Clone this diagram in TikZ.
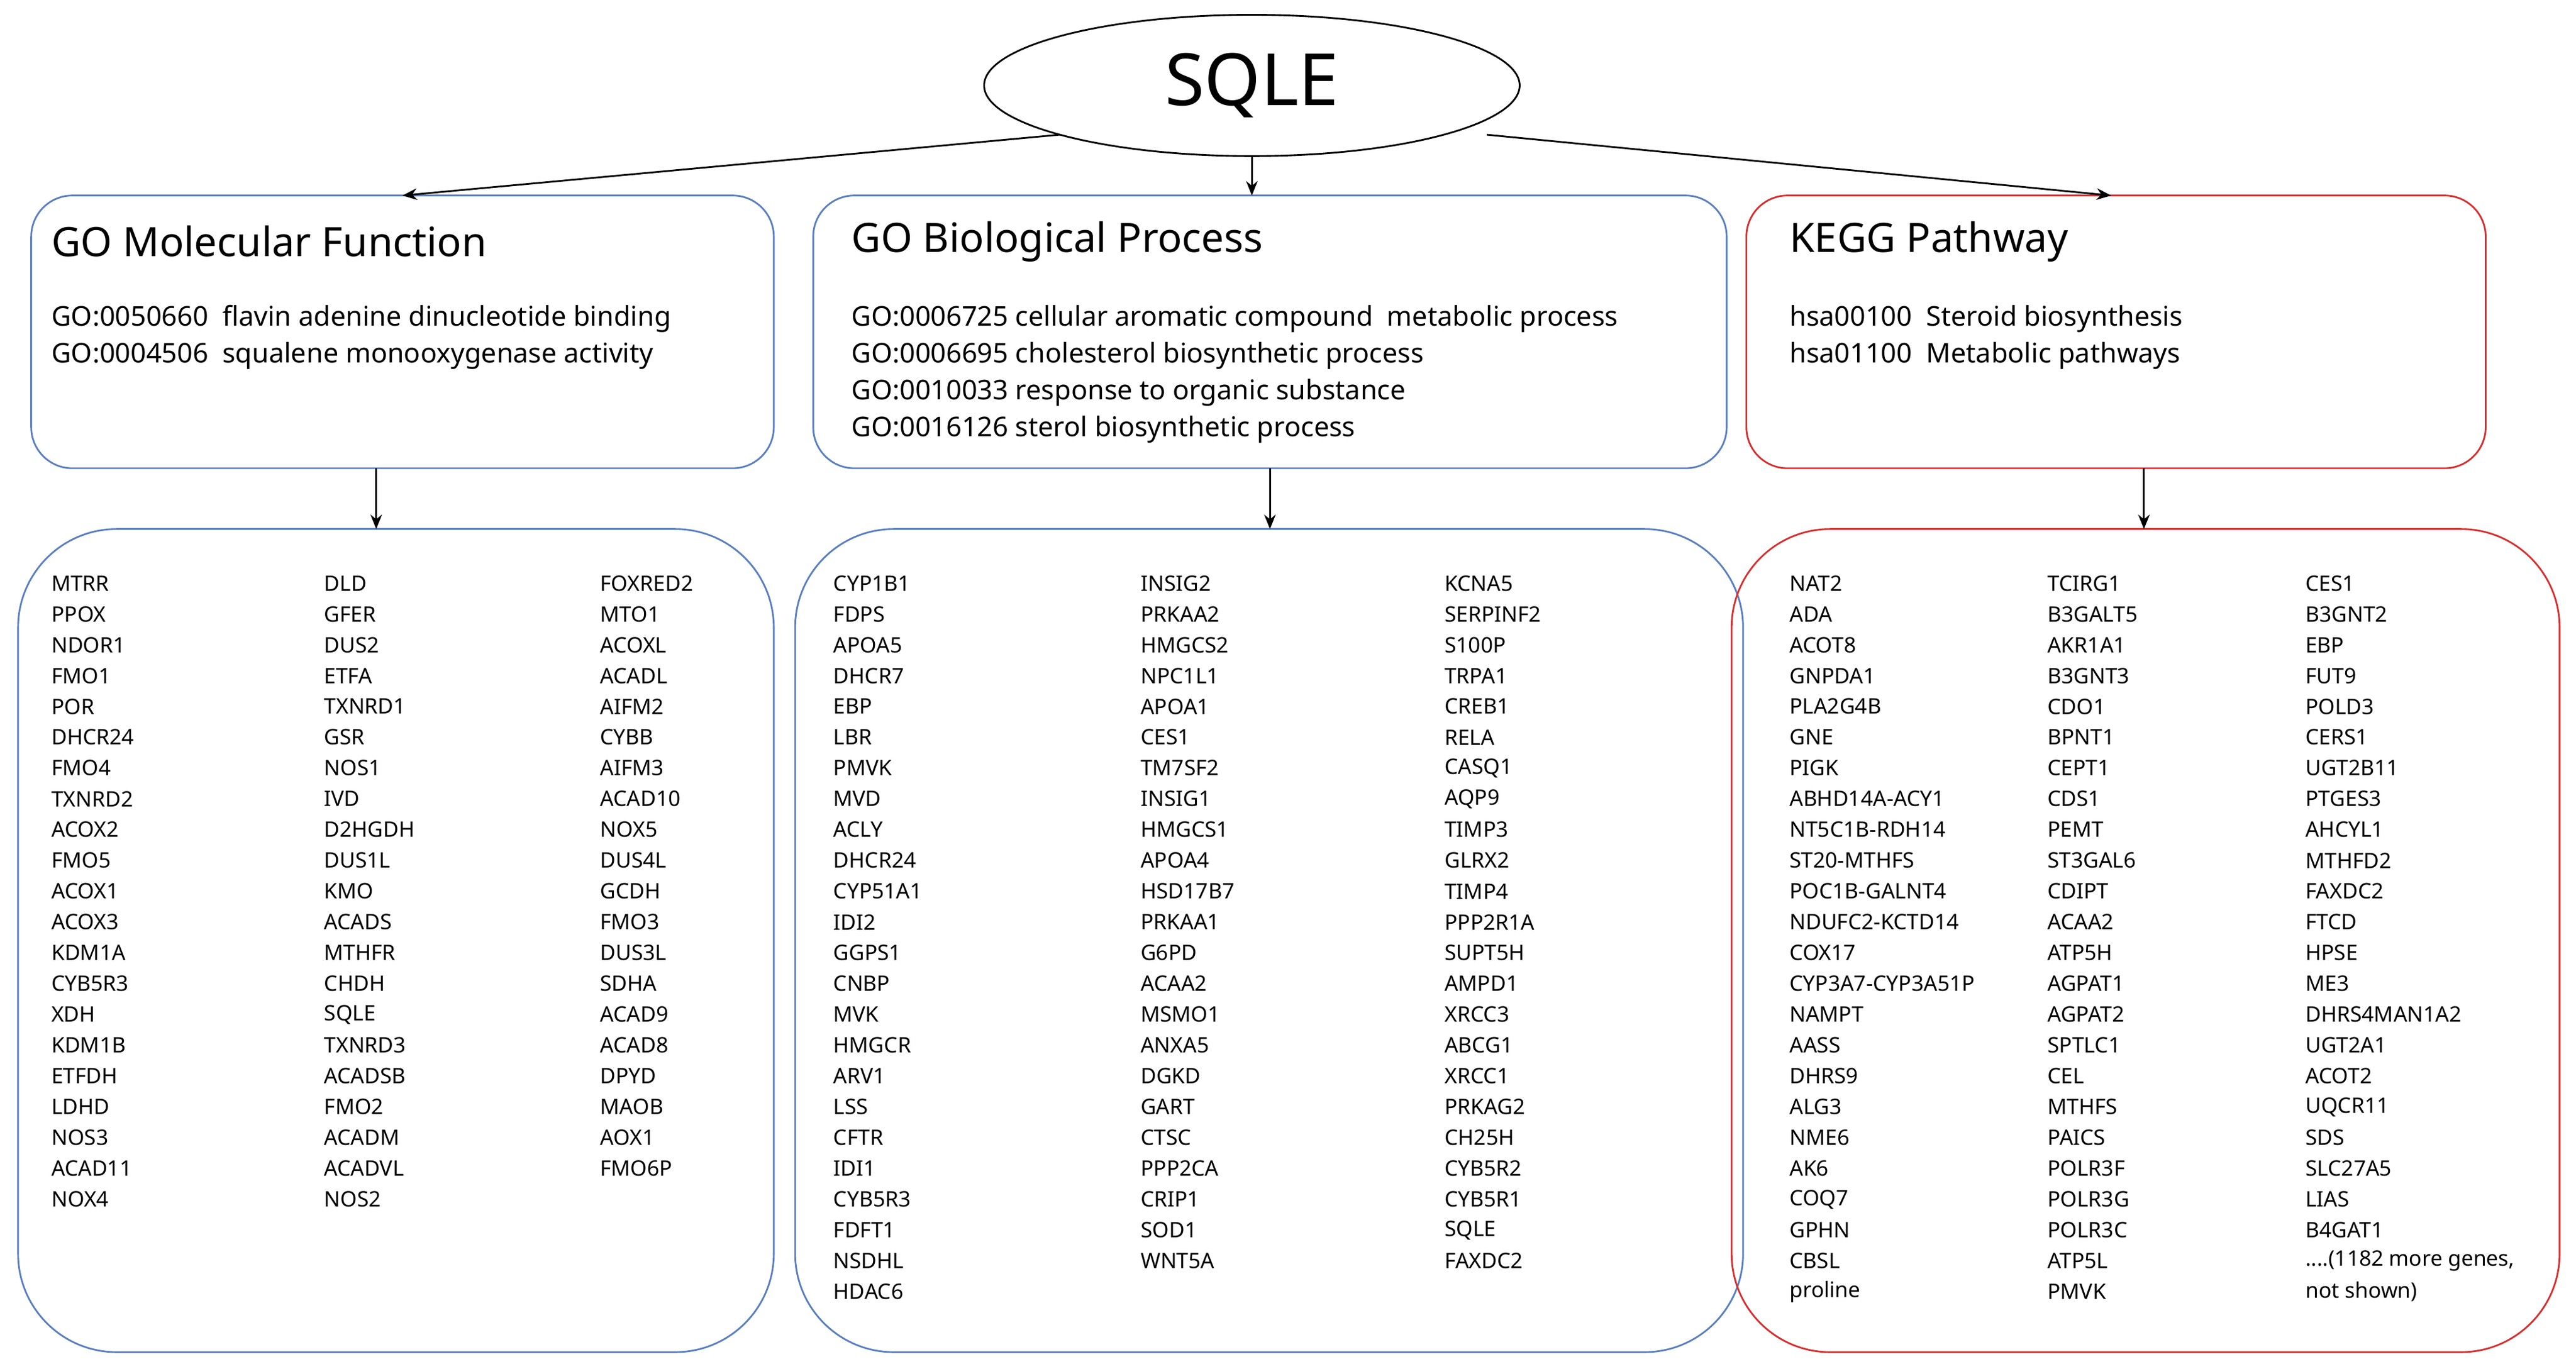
\documentclass[tikz,border=0pt]{standalone}
\usepackage{fontspec}
\setmainfont{Noto Sans}
\usetikzlibrary{arrows.meta,shapes.geometric}
\definecolor{bl}{HTML}{5A7FC0}
\definecolor{rd}{HTML}{D63030}
\newcommand\moregenes{....(1182 more genes,}
\begin{document}
\begin{tikzpicture}[x=0.02cm,y=-0.02cm,
  gene/.style={anchor=west,inner sep=0pt,font=\fontsize{7.4}{9}\selectfont},
  goline/.style={anchor=west,inner sep=0pt,font=\fontsize{9.4}{11}\selectfont},
  ttl/.style={anchor=west,inner sep=0pt,font=\fontsize{14}{16}\selectfont},
  topbox/.style={draw,line width=0.6pt,rounded corners=0.5cm},
  botbox/.style={draw,line width=0.6pt,rounded corners=1.2cm},
  arr/.style={-{Stealth[length=5pt,width=4pt]},line width=0.6pt}]
\useasboundingbox (0,0) rectangle (1568,833);
\node[draw,ellipse,minimum width=326*0.02cm,minimum height=86*0.02cm,inner sep=0pt,line width=0.6pt,font=\fontsize{25}{28}\selectfont] (sqle) at (762,52) {SQLE};
\draw[topbox,bl] (19,119) rectangle (471,285);
\draw[topbox,bl] (495,119) rectangle (1051,285);
\draw[topbox,rd] (1063,119) rectangle (1513,285);
\draw[botbox,bl] (11,322) rectangle (471,823);
\draw[botbox,bl] (484,322) rectangle (1061,823);
\draw[botbox,rd] (1054,322) rectangle (1558,823);
\coordinate (tA) at (245,119); \coordinate (tB) at (762,119); \coordinate (tC) at (1285,119);
\coordinate (sA) at (645,82); \coordinate (sC) at (905,82);
\draw[arr] (sA) -- (tA);
\draw[arr] (sqle.south) -- (tB);
\draw[arr] (sC) -- (tC);
\coordinate (a1) at (229,285); \coordinate (a2) at (229,322);
\coordinate (b1) at (773,285); \coordinate (b2) at (773,322);
\coordinate (c1) at (1305,285); \coordinate (c2) at (1305,322);
\draw[arr] (a1) -- (a2); \draw[arr] (b1) -- (b2); \draw[arr] (c1) -- (c2);
\node[ttl] (t1) at (31,147) {GO Molecular Function};
\node[ttl] (t2) at (518,147) {GO Biological Process};
\node[ttl] (t3) at (1089,147) {KEGG Pathway};
\foreach \g [count=\i] in {GO:0050660\ \ flavin adenine dinucleotide binding, GO:0004506\ \ squalene monooxygenase activity}
  \node[goline] (ga\i) at (31,{194+(\i-1)*22.4}) {\g};
\foreach \g [count=\i] in {GO:0006725 cellular aromatic compound\ \ metabolic process, GO:0006695 cholesterol biosynthetic process, GO:0010033 response to organic substance, GO:0016126 sterol biosynthetic process}
  \node[goline] (gb\i) at (518,{194+(\i-1)*22.4}) {\g};
\foreach \g [count=\i] in {hsa00100\ \ Steroid biosynthesis, hsa01100\ \ Metabolic pathways}
  \node[goline] (gc\i) at (1089,{194+(\i-1)*22.4}) {\g};
\newcommand\gcol[3]{\foreach \g [count=\i] in {#3} \node[gene] (#1-\i) at (#2,{355+(\i-1)*18.75}) {\g};}
\gcol{L1}{31}{MTRR,PPOX,NDOR1,FMO1,POR,DHCR24,FMO4,TXNRD2,ACOX2,FMO5,ACOX1,ACOX3,KDM1A,CYB5R3,XDH,KDM1B,ETFDH,LDHD,NOS3,ACAD11,NOX4}
\gcol{L2}{197}{DLD,GFER,DUS2,ETFA,TXNRD1,GSR,NOS1,IVD,D2HGDH,DUS1L,KMO,ACADS,MTHFR,CHDH,SQLE,TXNRD3,ACADSB,FMO2,ACADM,ACADVL,NOS2}
\gcol{L3}{365}{FOXRED2,MTO1,ACOXL,ACADL,AIFM2,CYBB,AIFM3,ACAD10,NOX5,DUS4L,GCDH,FMO3,DUS3L,SDHA,ACAD9,ACAD8,DPYD,MAOB,AOX1,FMO6P}
\gcol{M1}{507}{CYP1B1,FDPS,APOA5,DHCR7,EBP,LBR,PMVK,MVD,ACLY,DHCR24,CYP51A1,IDI2,GGPS1,CNBP,MVK,HMGCR,ARV1,LSS,CFTR,IDI1,CYB5R3,FDFT1,NSDHL,HDAC6}
\gcol{M2}{694}{INSIG2,PRKAA2,HMGCS2,NPC1L1,APOA1,CES1,TM7SF2,INSIG1,HMGCS1,APOA4,HSD17B7,PRKAA1,G6PD,ACAA2,MSMO1,ANXA5,DGKD,GART,CTSC,PPP2CA,CRIP1,SOD1,WNT5A}
\gcol{M3}{879}{KCNA5,SERPINF2,S100P,TRPA1,CREB1,RELA,CASQ1,AQP9,TIMP3,GLRX2,TIMP4,PPP2R1A,SUPT5H,AMPD1,XRCC3,ABCG1,XRCC1,PRKAG2,CH25H,CYB5R2,CYB5R1,SQLE,FAXDC2}
\gcol{R1}{1089}{NAT2,ADA,ACOT8,GNPDA1,PLA2G4B,GNE,PIGK,ABHD14A-ACY1,NT5C1B-RDH14,ST20-MTHFS,POC1B-GALNT4,NDUFC2-KCTD14,COX17,CYP3A7-CYP3A51P,NAMPT,AASS,DHRS9,ALG3,NME6,AK6,COQ7,GPHN,CBSL,proline}
\gcol{R2}{1246}{TCIRG1,B3GALT5,AKR1A1,B3GNT3,CDO1,BPNT1,CEPT1,CDS1,PEMT,ST3GAL6,CDIPT,ACAA2,ATP5H,AGPAT1,AGPAT2,SPTLC1,CEL,MTHFS,PAICS,POLR3F,POLR3G,POLR3C,ATP5L,PMVK}
\gcol{R3}{1403}{CES1,B3GNT2,EBP,FUT9,POLD3,CERS1,UGT2B11,PTGES3,AHCYL1,MTHFD2,FAXDC2,FTCD,HPSE,ME3,DHRS4MAN1A2,UGT2A1,ACOT2,UQCR11,SDS,SLC27A5,LIAS,B4GAT1,\moregenes,{not shown)}}
\end{tikzpicture}
\end{document}
